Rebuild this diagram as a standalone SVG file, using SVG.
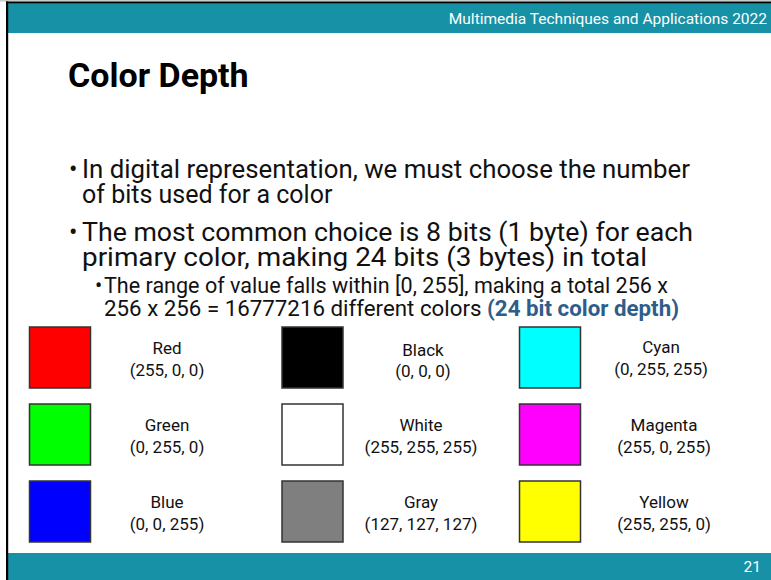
<svg xmlns="http://www.w3.org/2000/svg" width="771" height="580" viewBox="0 0 771 580">
  <style>
    .bar { fill: #1791a6; }
    .hdr { font-family: Roboto, "Liberation Sans", sans-serif; font-size: 15.5px; fill: #ffffff; }
    .title { font-family: Roboto, "Liberation Sans", sans-serif; font-size: 34px; font-weight: bold; fill: #000000; }
    .body { font-family: Roboto, "Liberation Sans", sans-serif; font-size: 25px; fill: #111111; }
    .sub { font-family: Roboto, "Liberation Sans", sans-serif; font-size: 21.5px; fill: #111111; }
    .hl { fill: #2f5d8a; font-weight: bold; }
    .sw { stroke: #333333; stroke-width: 1.5; }
    .lbl { font-family: Roboto, "Liberation Sans", sans-serif; font-size: 17px; fill: #111111; text-anchor: middle; }
  </style>

  <!-- page -->
  <rect x="0" y="0" width="771" height="580" fill="#ffffff"/>

  <!-- header band -->
  <rect class="bar" x="6" y="3" width="765" height="30"/>
  <rect x="0" y="0" width="771" height="1.5" fill="#c8cccc"/>
  <rect x="6" y="1.5" width="765" height="1.8" fill="#000000"/>
  <text class="hdr" x="767" y="24" text-anchor="end">Multimedia Techniques and Applications 2022</text>

  <!-- footer band -->
  <rect class="bar" x="6" y="553" width="765" height="27"/>
  <text class="hdr" x="761" y="572" text-anchor="end" font-size="13">21</text>

  <!-- left frame edge -->
  <rect x="6" y="1.5" width="2.2" height="578.5" fill="#000000"/>

  <!-- title -->
  <text class="title" x="68" y="87">Color Depth</text>

  <!-- bullets -->
  <g id="bullets">
    <text class="body" x="69" y="178">•</text>
    <text class="body" x="82" y="178" textLength="608" lengthAdjust="spacingAndGlyphs">In digital representation, we must choose the number</text>
    <text class="body" x="82" y="203">of bits used for a color</text>
    <text class="body" x="69" y="241">•</text>
    <text class="body" x="82" y="241" textLength="611" lengthAdjust="spacingAndGlyphs">The most common choice is 8 bits (1 byte) for each</text>
    <text class="body" x="82" y="266" textLength="565" lengthAdjust="spacingAndGlyphs">primary color, making 24 bits (3 bytes) in total</text>
    <text class="sub" x="95" y="293">•</text>
    <text class="sub" x="104" y="293" textLength="564" lengthAdjust="spacingAndGlyphs">The range of value falls within [0, 255], making a total 256 x</text>
    <text class="sub" x="104" y="316" textLength="575" lengthAdjust="spacingAndGlyphs">256 x 256 = 16777216 different colors <tspan class="hl">(24 bit color depth)</tspan></text>
  </g>

  <!-- colour swatches -->
  <g id="red">
    <rect class="sw" x="29.5" y="327" width="61" height="61" fill="#ff0000"/>
    <text class="lbl" x="167" y="354">Red</text>
    <text class="lbl" x="167" y="376">(255, 0, 0)</text>
  </g>
  <g id="green">
    <rect class="sw" x="29.5" y="404" width="61" height="61" fill="#00ff00"/>
    <text class="lbl" x="167" y="431">Green</text>
    <text class="lbl" x="167" y="453">(0, 255, 0)</text>
  </g>
  <g id="blue">
    <rect class="sw" x="29.5" y="481" width="61" height="61" fill="#0000ff"/>
    <text class="lbl" x="167" y="508">Blue</text>
    <text class="lbl" x="167" y="530">(0, 0, 255)</text>
  </g>

  <g id="black">
    <rect class="sw" x="282" y="327" width="61" height="61" fill="#000000"/>
    <text class="lbl" x="423" y="356">Black</text>
    <text class="lbl" x="423" y="377">(0, 0, 0)</text>
  </g>
  <g id="white">
    <rect class="sw" x="282" y="404" width="61" height="61" fill="#ffffff"/>
    <text class="lbl" x="421" y="431">White</text>
    <text class="lbl" x="421" y="453">(255, 255, 255)</text>
  </g>
  <g id="gray">
    <rect class="sw" x="282" y="481" width="61" height="61" fill="#7f7f7f"/>
    <text class="lbl" x="421" y="508">Gray</text>
    <text class="lbl" x="421" y="530">(127, 127, 127)</text>
  </g>

  <g id="cyan">
    <rect class="sw" x="519.5" y="327" width="61" height="61" fill="#00ffff"/>
    <text class="lbl" x="661" y="353">Cyan</text>
    <text class="lbl" x="661" y="375">(0, 255, 255)</text>
  </g>
  <g id="magenta">
    <rect class="sw" x="519.5" y="404" width="61" height="61" fill="#ff00ff"/>
    <text class="lbl" x="664" y="431">Magenta</text>
    <text class="lbl" x="664" y="453">(255, 0, 255)</text>
  </g>
  <g id="yellow">
    <rect class="sw" x="519.5" y="481" width="61" height="61" fill="#ffff00"/>
    <text class="lbl" x="664" y="508">Yellow</text>
    <text class="lbl" x="664" y="530">(255, 255, 0)</text>
  </g>
</svg>
